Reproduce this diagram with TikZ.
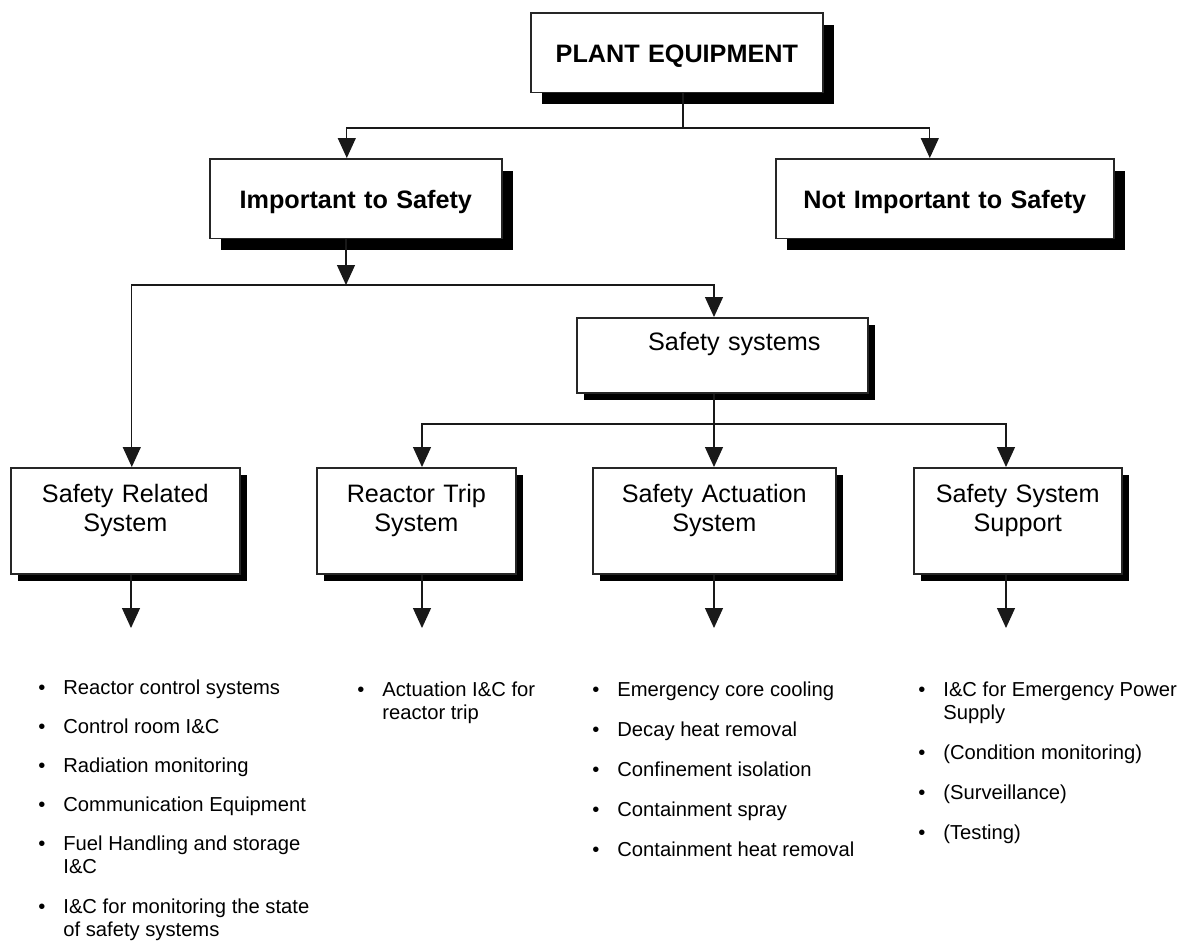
\documentclass[tikz,border=0pt]{standalone}
\usepackage{fontspec}
\setmainfont{Liberation Sans}
\usetikzlibrary{arrows.meta,shadows}
\newcommand{\bul}{\makebox[12.5pt][l]{\textbullet}}
\newcommand{\cont}{\hspace*{12.5pt}}

\begin{document}
\begin{tikzpicture}[x=0.5pt,y=-0.5pt,
    box/.style={draw=black!85,line width=0.8pt,fill=white,inner sep=0pt,align=center,anchor=north west},
    headbox/.style={box,font=\fontsize{12.6}{15}\selectfont\bfseries,text height=25pt,text depth=14.75pt,
      drop shadow={shadow xshift=5.5pt,shadow yshift=-6pt,fill=black,opacity=1}},
    subbox/.style={box,font=\fontsize{12.6}{14.5}\selectfont,text height=17.5pt,text depth=35.5pt,
      drop shadow={shadow xshift=3.5pt,shadow yshift=-3.5pt,fill=black,opacity=1}},
    lst/.style={anchor=north west,inner sep=0pt,align=left,font=\fontsize{10.1}{11.5}\selectfont},
    ln/.style={line width=0.6pt,draw=black!90},
    a/.style={ln,-{Triangle[length=10pt,width=9pt]}}]
    \useasboundingbox (0,0) rectangle (1183,944);
    % boxes
    \node[headbox,text width=146pt] (plant) at (530,12) {PLANT EQUIPMENT};
    \node[headbox,text width=146pt] (imp) at (209,158) {Important to Safety};
    \node[headbox,text width=169pt] (nimp) at (775,158) {Not Important to Safety};
    \node[subbox,text width=145.5pt,text height=16.5pt,text depth=21pt] (sys) at (576,317) {\hspace*{12pt}Safety systems};
    \node[subbox,text width=114.5pt] (srs) at (10,467) {Safety Related\\System};
    \node[subbox,text width=99.5pt] (rts) at (316,467) {Reactor Trip\\System};
    \node[subbox,text width=121.5pt] (sas) at (592,467) {Safety Actuation\\System};
    \node[subbox,text width=104pt] (sss) at (913,467) {Safety System\\Support};
    % lists
    \node[lst] (srslist) at (38,679) {\bul Reactor control systems\\[8pt]
      \bul Control room I\&C\\[8pt]
      \bul Radiation monitoring\\[8pt]
      \bul Communication Equipment\\[8pt]
      \bul Fuel Handling and storage\\ \cont I\&C\\[8.5pt]
      \bul I\&C for monitoring the state\\ \cont of safety systems};
    \node[lst] (rtslist) at (357,681) {\bul Actuation I\&C for\\ \cont reactor trip};
    \node[lst] (saslist) at (592,681) {\bul Emergency core cooling\\[8.5pt]
      \bul Decay heat removal\\[8.5pt]
      \bul Confinement isolation\\[8.5pt]
      \bul Containment spray\\[8.5pt]
      \bul Containment heat removal};
    \node[lst] (ssslist) at (918,681) {\bul I\&C for Emergency Power\\ \cont Supply\\[8.5pt]
      \bul (Condition monitoring)\\[8.5pt]
      \bul (Surveillance)\\[8.5pt]
      \bul (Testing)};
    % connectors
    \coordinate (j1) at (683,128);
    \coordinate (j2) at (346,285);
    \coordinate (j3) at (714,424);
    \coordinate (e1) at (131,628);
    \coordinate (e2) at (422,628);
    \coordinate (e3) at (714,628);
    \coordinate (e4) at (1006,628);
    \draw[ln] (plant.south -| j1) -- (j1);
    \draw[a] (j1) -| ([xshift=-4.5pt]imp.north);
    \draw[a] (j1) -| ([xshift=-7.5pt]nimp.north);
    \draw[a] (imp.south -| j2) -- (j2);
    \draw[a] (j2) -| ([xshift=3.25pt]srs.north);
    \draw[a] (j2) -| (sys.north -| j3);
    \draw[ln] (sys.south -| j3) -- (j3);
    \draw[a] (j3) -| (rts.north -| e2);
    \draw[a] (j3) -- (sas.north -| j3);
    \draw[a] (j3) -| (sss.north -| e4);
    \draw[a] (srs.south -| e1) -- (e1);
    \draw[a] (rts.south -| e2) -- (e2);
    \draw[a] (sas.south -| e3) -- (e3);
    \draw[a] (sss.south -| e4) -- (e4);
\end{tikzpicture}
\end{document}
